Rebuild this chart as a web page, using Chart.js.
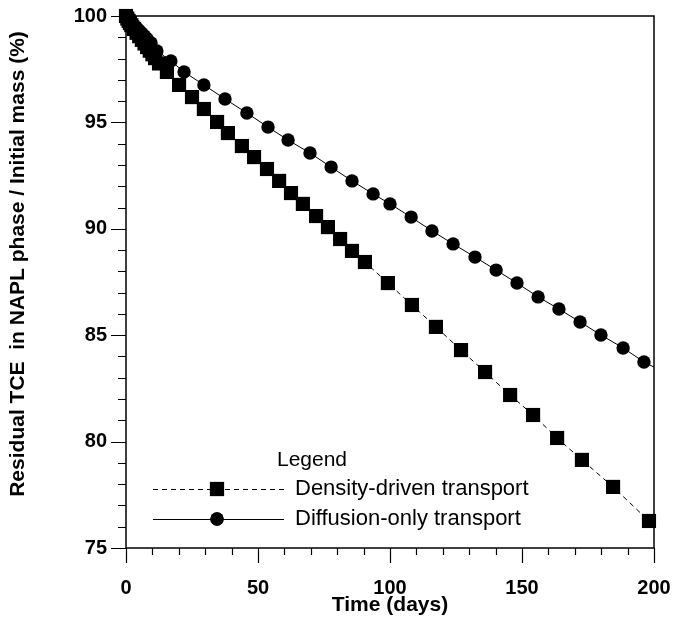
<!DOCTYPE html>
<html lang="en">
<head>
    <meta charset="UTF-8">
    <title>Residual TCE in NAPL phase</title>
    <style>
        body { margin: 0; padding: 0; background: #fff; }
        #wrap { width: 677px; height: 635px; }
    </style>
</head>
<body>
<div id="wrap"><canvas id="massChart" width="677" height="635"></canvas></div>

<script src="https://cdn.jsdelivr.net/npm/chart.js"></script>
<script>
    // values
    const densityDays = [0, 0.5, 1, 1.5, 2, 3, 4, 5, 6, 7, 8, 9, 10, 11, 12.5, 15.5, 20.1, 25, 29.5, 34.5,
        38.6, 43.9, 48.5, 53.4, 58, 62.5, 67, 72, 76.5, 81.1, 85.6, 90.5, 99.2, 108.3, 117.4,
        126.9, 136, 145.5, 154.2, 163.3, 172.7, 184.5, 198.1];
    const densityMass = [100, 99.88, 99.77, 99.67, 99.57, 99.39, 99.21, 99.05, 98.88, 98.71, 98.54, 98.37, 98.2, 98.02, 97.77, 97.37, 96.76, 96.19, 95.63, 95.02,
        94.5, 93.89, 93.37, 92.81, 92.25, 91.68, 91.17, 90.6, 90.08, 89.52, 88.96, 88.44, 87.45, 86.42, 85.39,
        84.3, 83.27, 82.19, 81.25, 80.17, 79.14, 77.87, 76.27];

    const diffusionDays = [0, 0.5, 1, 2, 3, 4, 5, 6, 7, 8, 9.5, 11.7, 17, 22, 29.5, 37.5, 45.8, 53.8, 61.4, 69.7,
        77.7, 85.6, 93.6, 100, 108, 115.9, 123.9, 132.2, 140.2, 148.1, 156.1, 164, 172, 179.9, 188.3, 196.2, 200];
    const diffusionMass = [100, 99.93, 99.86, 99.72, 99.58, 99.45, 99.32, 99.19, 99.06, 98.93, 98.73, 98.36, 97.89, 97.37, 96.76, 96.1, 95.44, 94.78, 94.17, 93.56,
        92.9, 92.25, 91.64, 91.17, 90.55, 89.9, 89.29, 88.67, 88.06, 87.45, 86.8, 86.23, 85.62, 85.01, 84.4, 83.74, 83.5];

    const seriesNames = ['Density-driven transport', 'Diffusion-only transport'];
    const xTicks = [0, 50, 100, 150, 200];
    const yTicks = [75, 80, 85, 90, 95, 100];
    const yTitle = 'Residual TCE  in NAPL phase / Initial mass (%)';

    const FONT = 'Arial, "Liberation Sans", sans-serif';

    const toPoints = (xs, ys) => xs.map((x, i) => ({ x: x, y: ys[i] }));

    // outward minor/major tick marks, the box round the plot, and the y title
    const frameTicks = {
        id: 'frameTicks',
        afterDraw(chart) {
            const ctx = chart.ctx;
            const a = chart.chartArea;
            const xs = chart.scales.x;
            const ys = chart.scales.y;
            ctx.save();
            ctx.strokeStyle = '#000';
            ctx.lineWidth = 1.5;
            ctx.strokeRect(a.left, a.top, a.right - a.left, a.bottom - a.top);
            ctx.lineWidth = 1.2;
            ctx.beginPath();
            for (let v = 0; v <= 200; v += 10) {
                const px = Math.round(xs.getPixelForValue(v)) + 0.5;
                const len = v % 50 === 0 ? 15 : 7;
                ctx.moveTo(px, a.bottom);
                ctx.lineTo(px, a.bottom + len);
            }
            for (let v = 75; v <= 100; v += 1) {
                const py = Math.round(ys.getPixelForValue(v)) + 0.5;
                const len = v % 5 === 0 ? 15 : 8;
                ctx.moveTo(a.left, py);
                ctx.lineTo(a.left - len, py);
            }
            ctx.stroke();

            // y title sits a little above the axis middle in the original
            ctx.translate(18, 264);
            ctx.rotate(-Math.PI / 2);
            ctx.fillStyle = '#000';
            ctx.font = 'bold 21px ' + FONT;
            ctx.textAlign = 'center';
            ctx.textBaseline = 'middle';
            ctx.fillText(yTitle, 0, 0);
            ctx.restore();
        }
    };

    // legend box drawn inside the plot, lower left
    const innerLegend = {
        id: 'innerLegend',
        afterDraw(chart) {
            const ctx = chart.ctx;
            ctx.save();
            ctx.fillStyle = '#000';
            ctx.font = '21px ' + FONT;
            ctx.textAlign = 'center';
            ctx.textBaseline = 'middle';
            ctx.fillText('Legend', 312, 460);
            const rows = [489, 519];
            chart.data.datasets.forEach((ds, i) => {
                const y = rows[i];
                ctx.strokeStyle = '#000';
                ctx.lineWidth = 1;
                ctx.setLineDash(ds.borderDash || []);
                ctx.beginPath();
                ctx.moveTo(153, y + 0.5);
                ctx.lineTo(284, y + 0.5);
                ctx.stroke();
                ctx.setLineDash([]);
                Chart.helpers.drawPoint(ctx, {
                    pointStyle: ds.pointStyle,
                    radius: ds.legendRadius,
                    rotation: 0,
                    borderWidth: 0
                }, 217, y);
                ctx.fillStyle = '#000';
                ctx.fill();
                ctx.textAlign = 'left';
                ctx.font = '22px ' + FONT;
                ctx.fillText(ds.label, 295, y);
            });
            ctx.restore();
        }
    };

    const ctx = document.getElementById('massChart').getContext('2d');
    new Chart(ctx, {
        type: 'scatter',
        data: {
            datasets: [{
                label: seriesNames[0],
                data: toPoints(densityDays, densityMass),
                showLine: true,
                borderColor: '#000',
                backgroundColor: '#000',
                borderWidth: 1,
                borderDash: [5, 4],
                pointStyle: 'rect',
                pointRadius: 10,
                legendRadius: 10,
                pointBorderWidth: 0,
                clip: false
            }, {
                label: seriesNames[1],
                data: toPoints(diffusionDays, diffusionMass),
                showLine: true,
                borderColor: '#000',
                backgroundColor: '#000',
                borderWidth: 1,
                pointStyle: 'circle',
                pointRadius: diffusionDays.map(d => d === 200 ? 0 : 6.7),
                legendRadius: 6.7,
                pointBorderWidth: 0,
                clip: false
            }]
        },
        options: {
            responsive: false,
            animation: false,
            events: [],
            layout: { padding: { left: 0, right: 23, top: 16, bottom: 0 } },
            plugins: {
                legend: { display: false },
                tooltip: { enabled: false }
            },
            scales: {
                x: {
                    type: 'linear',
                    min: 0,
                    max: 200,
                    border: { display: false },
                    grid: { display: false, drawTicks: false },
                    afterBuildTicks: s => { s.ticks = xTicks.map(v => ({ value: v })); },
                    ticks: {
                        color: '#000',
                        padding: 28,
                        maxRotation: 0,
                        font: { family: FONT, size: 20, weight: 'bold' }
                    },
                    title: {
                        display: true,
                        text: 'Time (days)',
                        color: '#000',
                        padding: { top: 0, bottom: 17 },
                        font: { family: FONT, size: 21, weight: 'bold' }
                    },
                    afterFit: s => {
                        s.height = 87;
                        s.paddingLeft = 0;
                        s.paddingRight = 0;
                    }
                },
                y: {
                    type: 'linear',
                    min: 75,
                    max: 100,
                    border: { display: false },
                    grid: { display: false, drawTicks: false },
                    afterBuildTicks: s => { s.ticks = yTicks.map(v => ({ value: v })); },
                    ticks: {
                        color: '#000',
                        padding: 19,
                        font: { family: FONT, size: 20, weight: 'bold' }
                    },
                    afterFit: s => {
                        s.width = 126;
                        s.paddingTop = 0;
                        s.paddingBottom = 0;
                    }
                }
            }
        },
        plugins: [frameTicks, innerLegend]
    });
</script>
</body>
</html>
